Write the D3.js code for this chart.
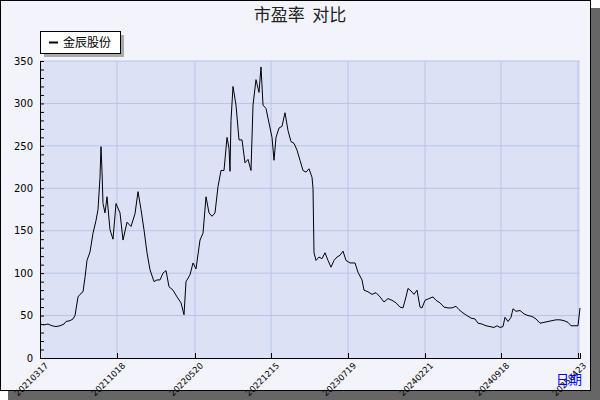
<!DOCTYPE html>
<html><head><meta charset="utf-8">
<script src="https://cdn.jsdelivr.net/npm/d3@7"></script>
<style>body{margin:0;background:#fff}svg{display:block;font-family:"DejaVu Sans",sans-serif}</style>
</head><body><svg id="c" width="600" height="400"></svg>
<script>
const title = "市盈率  对比";
const seriesName = "金辰股份";
const xAxisName = "日期";
const tickLabels = ["20210317","20211018","20220520","20221215","20230719","20240221","20240918","20250423"];
const tickIdx = [0,77,155,231,308,385,461,538];
const yTicks = [0,50,100,150,200,250,300,350];
const t = [0,4,8,12,16,20,24,26,30,33,35,38,40,43,45,47,50,53,56,58,60,61,62,63,65,67,70,73,76,80,83,87,91,95,98,101,104,107,110,114,117,120,123,126,129,133,137,141,144,146,150,153,156,160,163,166,169,172,175,178,181,184,187,189,190,191,193,196,199,202,205,208,211,213,216,219,221,223,226,229,232,234,236,239,242,245,248,251,254,257,260,263,266,269,272,273,274,276,279,282,285,288,291,294,297,300,303,306,310,315,318,322,324,328,332,336,340,344,348,352,356,360,363,366,368,371,374,377,380,382,385,389,393,396,400,404,408,412,416,419,423,427,431,435,438,442,446,450,454,457,460,463,465,468,471,473,476,480,484,488,492,496,500,504,508,512,516,520,524,528,531,535,538,540];
const pe = [40,39,40,38,37,38,40,43,44,46,50,72,75,78,95,115,125,147,162,175,213,249,220,182,171,190,151,140,182,171,139,160,155,170,196,175,151,124,104,90,92,92,100,103,84,80,72,65,51,90,98,112,105,139,147,190,171,167,171,202,221,221,260,247,220,280,320,298,257,257,230,234,221,298,328,313,343,298,294,277,260,233,260,271,273,289,268,255,253,245,233,221,219,223,213,200,124,115,119,117,124,115,107,115,119,121,126,115,112,112,101,92,80,78,75,77,72,66,70,68,65,60,59,72,82,79,75,80,60,59,68,70,72,68,65,60,59,59,61,57,53,50,47,46,41,40,38,37,36,38,36,37,48,43,48,58,55,56,52,50,49,46,41,42,43,44,45,45,44,42,38,38,38,59];

const svg = d3.select("#c");
svg.append("rect").attr("x",8).attr("y",8).attr("width",592).attr("height",392).attr("fill","#666");
svg.append("rect").attr("x",0.5).attr("y",0.5).attr("width",590).attr("height",390).attr("fill","#f2f3fb").attr("stroke","#000");
const m = {l:40,r:580,t:61,b:358};
const x = d3.scaleLinear().domain([0,540]).range([m.l,m.r]);
const y = d3.scaleLinear().domain([0,350]).range([m.b,m.t]);
svg.append("rect").attr("x",m.l).attr("y",m.t).attr("width",m.r-m.l).attr("height",m.b-m.t).attr("fill","#dce1f6");
const g = svg.append("g");
g.selectAll(".gy").data(yTicks.slice(1)).join("line").attr("x1",m.l).attr("x2",m.r).attr("y1",d=>y(d)).attr("y2",d=>y(d)).attr("stroke","#b8c4e8");
g.selectAll(".gx").data(tickIdx.slice(1)).join("line").attr("x1",d=>x(d)).attr("x2",d=>x(d)).attr("y1",m.t).attr("y2",m.b).attr("stroke","#b8c4e8");
const ya = d3.axisLeft(y).tickValues(d3.range(0,351,10)).tickSize(-4).tickFormat(d=>yTicks.includes(d)?d:"");
const yg = svg.append("g").attr("transform",`translate(${m.l},0)`).call(ya);
yg.select(".domain").attr("stroke","#000");
yg.selectAll(".tick text").attr("x",-7).attr("font-size",10).attr("font-family","DejaVu Sans").attr("fill","#000");
const xa = d3.axisBottom(x).tickValues(tickIdx).tickSize(-5).tickFormat((d,i)=>tickLabels[i]);
const xg = svg.append("g").attr("transform",`translate(0,${m.b})`).call(xa);
xg.select(".domain").attr("stroke","#000");
xg.selectAll(".tick text").attr("font-size",8.5).attr("font-family","DejaVu Sans").attr("fill","#000")
  .attr("text-anchor","end").attr("transform","translate(4,4) rotate(-45)").attr("dy","0.7em").attr("y",0).attr("x",0);
svg.append("path").datum(t.map((d,i)=>[d,pe[i]])).attr("fill","none").attr("stroke","#000").attr("stroke-width",1)
  .attr("d",d3.line().x(d=>x(d[0])).y(d=>y(d[1])));
svg.append("text").attr("x",300).attr("y",21).attr("text-anchor","middle").attr("font-size",17).attr("font-family","Noto Sans CJK SC").attr("fill","#222").style("white-space","pre").text(title);
svg.append("rect").attr("x",44).attr("y",35).attr("width",80).attr("height",22).attr("fill","#aaa");
svg.append("rect").attr("x",40.5).attr("y",31.5).attr("width",80).attr("height",22).attr("fill","#fff").attr("stroke","#000");
svg.append("line").attr("x1",49).attr("x2",58).attr("y1",42.5).attr("y2",42.5).attr("stroke","#000").attr("stroke-width",2);
svg.append("text").attr("x",63).attr("y",47).attr("font-size",12).attr("font-family","Noto Sans CJK SC").text(seriesName);
svg.append("text").attr("x",556).attr("y",384).attr("font-size",13).attr("font-family","Noto Sans CJK SC").attr("fill","#00f").text(xAxisName);
</script></body></html>
